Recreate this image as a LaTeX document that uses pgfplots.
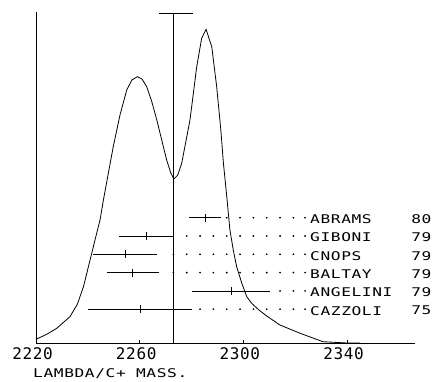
\documentclass[border=0pt]{standalone}
\usepackage{fontspec}
\setmainfont{DejaVu Sans Mono}
\newfontfamily\lblfont[FakeStretch=1.35,LetterSpace=5]{DejaVu Sans Mono}
\newfontfamily\tickfont[LetterSpace=4]{DejaVu Sans Mono}
\usepackage{pgfplots}
\pgfplotsset{compat=1.18}
\begin{document}
\begin{tikzpicture}
\path[use as bounding box] (-36pt,-38pt) rectangle (406pt,343pt);
\begin{axis}[
  at={(0pt,0pt)}, anchor=south west,
  scale only axis, width=379pt, height=331pt,
  xmin=2220, xmax=2366.2, ymin=0, ymax=331,
  axis x line=bottom, axis y line=left,
  axis line style={-, line width=0.8pt, black},
  ytick=\empty, xtick={2220,2260,2300,2340},
  tick align=inside, major tick length=3.5pt,
  tick style={line width=0.8pt, black},
  xticklabel style={font=\tickfont\fontsize{16}{16}\selectfont, inner sep=0pt, xshift=-3.5pt, yshift=-4pt},
  /pgf/number format/assume math mode=true,
  /pgf/number format/1000 sep={},
  xlabel={LAMBDA/C+ MASS.},
  xlabel style={at={(axis description cs:0,0)}, anchor=base west, inner sep=0pt, xshift=-3pt, yshift=-34.5pt, font=\lblfont\fontsize{12}{12}\selectfont},
  clip=false,
]
% mass distribution curve
\addplot[black, line width=0.8pt] coordinates {
(2220,3.7) (2224,8.5) (2228,14.7) (2233.1,26.3) (2236,39) (2238.3,56.3) (2241.5,89.7)
(2243.4,109.7) (2244.7,123) (2246,143) (2249.8,196.3) (2252.4,228) (2255,253) (2257,263)
(2259.1,266.3) (2260.9,264) (2262.7,256.3) (2264.6,242) (2266.6,223) (2268.5,203)
(2270.4,183) (2272,170) (2273.2,164) (2274.7,168) (2276.2,179.7) (2279.4,223) (2282,276.3)
(2283.9,304.7) (2285.6,313.7) (2287.8,296.3) (2289.7,256.3) (2291.3,213) (2292.3,179.7)
(2293.6,146.3) (2294.8,113) (2296.1,93) (2297.4,76.3) (2299.4,59.7) (2301.3,46.3)
(2303.2,39.7) (2306,33) (2309,27) (2314.1,18) (2321.9,9.7) (2330.7,1.3) (2340,0) (2345,0)
};
% average line with cap
\addplot[black, line width=0.8pt] coordinates {(2273,0) (2273,329.7)};
\addplot[black, line width=0.8pt] coordinates {(2267.5,329.7) (2280.5,329.7)};
% measurements
\addplot[black, line width=0.8pt, only marks, mark=|, mark size=4pt,
  mark options={line width=0.8pt},
  error bars/.cd, x dir=both, x explicit, error mark=none,
  error bar style={line width=0.8pt}] coordinates {
(2285.2,125.3) +- (6.0,0)
(2262.5,107.0) +- (10.3,0)
(2254.3,88.7) +- (12.2,0)
(2257.3,70.4) +- (10.1,0)
(2295.3,52.1) +- (15.0,0)
(2260.1,33.8) +- (20.1,0)
};
% dotted leaders
\addplot[black, only marks, mark=*, mark size=0.65pt] coordinates {
(2293.58,125.3) (2298.72,125.3) (2303.86,125.3) (2309.01,125.3) (2314.15,125.3) (2319.30,125.3) (2323.8,125.3)
(2278.14,107.0) (2283.29,107.0) (2288.43,107.0) (2293.58,107.0) (2298.72,107.0) (2303.86,107.0) (2309.01,107.0) (2314.15,107.0) (2319.30,107.0) (2323.8,107.0)
(2273.0,88.7) (2278.14,88.7) (2283.29,88.7) (2288.43,88.7) (2293.58,88.7) (2298.72,88.7) (2303.86,88.7) (2309.01,88.7) (2314.15,88.7) (2319.30,88.7) (2323.8,88.7)
(2273.0,70.4) (2278.14,70.4) (2283.29,70.4) (2288.43,70.4) (2293.58,70.4) (2298.72,70.4) (2303.86,70.4) (2309.01,70.4) (2314.15,70.4) (2319.30,70.4) (2323.8,70.4)
(2314.15,52.1) (2319.30,52.1) (2323.8,52.1)
(2283.29,33.8) (2288.43,33.8) (2293.58,33.8) (2298.72,33.8) (2303.86,33.8) (2309.01,33.8) (2314.15,33.8) (2319.30,33.8) (2323.8,33.8)
};
% labels
\begin{scope}[every node/.style={anchor=west, inner sep=0pt, yshift=-1.5pt, font=\lblfont\fontsize{12}{12}\selectfont}]
\node at (axis cs:2325.7,125.3) {ABRAMS};
\node at (axis cs:2325.7,107.0) {GIBONI};
\node at (axis cs:2325.7,88.7) {CNOPS};
\node at (axis cs:2325.7,70.4) {BALTAY};
\node at (axis cs:2325.7,52.1) {ANGELINI};
\node at (axis cs:2325.7,33.8) {CAZZOLI};
\node at (axis cs:2364.7,125.3) {80};
\node at (axis cs:2364.7,107.0) {79};
\node at (axis cs:2364.7,88.7) {79};
\node at (axis cs:2364.7,70.4) {79};
\node at (axis cs:2364.7,52.1) {79};
\node at (axis cs:2364.7,33.8) {75};
\end{scope}
\end{axis}
\end{tikzpicture}
\end{document}
